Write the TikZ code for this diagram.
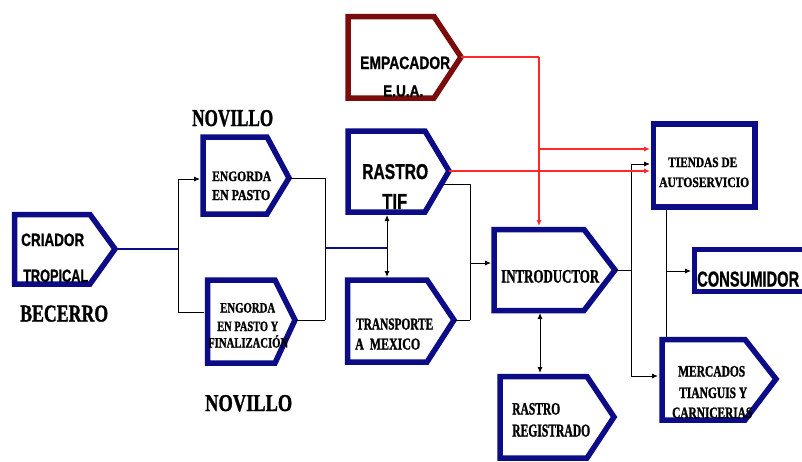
\documentclass[tikz,border=0pt]{standalone}
\usepackage{fontspec}
\setmainfont{Liberation Serif}[BoldFeatures={FakeBold=1.5}]
\setsansfont{Liberation Sans}[BoldFeatures={FakeBold=1.2}]
\usepackage{graphicx}
\usetikzlibrary{arrows.meta}
\definecolor{navy}{RGB}{12,12,135}
\definecolor{maroon}{RGB}{122,12,12}
\definecolor{redline}{RGB}{255,40,40}
\newcommand{\fitt}[3]{\resizebox{#1pt}{#2pt}{#3}}
\newcommand{\pentbox}[8]{%
  \draw[boxline,draw=#2] (#3,#4) -- (#6,#4) -- (#7,#8) -- (#6,#5) -- (#3,#5) -- cycle;
  \coordinate (#1-tip) at (#7,#8);
}
\tikzset{
  boxline/.style={line width=5.5pt, line join=miter},
  conn/.style={line width=0.9pt, draw=black},
  bconn/.style={line width=1.1pt, draw=navy},
  rconn/.style={line width=1.1pt, draw=redline},
  arrowend/.style={-{Latex[length=6pt,width=5pt]}},
  arrowboth/.style={{Latex[length=6pt,width=5pt]}-{Latex[length=6pt,width=5pt]}},
  lbl/.style={inner sep=0pt, anchor=base west, font=\bfseries},
  slbl/.style={inner sep=0pt, anchor=base west, font=\sffamily\bfseries},
}
\begin{document}
\begin{tikzpicture}[x=1pt,y=-1pt]
\useasboundingbox (0,0) rectangle (802,461);
\fill[white] (0,0) rectangle (802,461);

% ---------- coordinates ----------
\coordinate (j1) at (178,249);
\coordinate (j1t) at (178,179);
\coordinate (j1b) at (178,312);
\coordinate (eng1-in) at (200,179);
\coordinate (eng2-in) at (204,312);
\coordinate (j2t) at (325,178);
\coordinate (j2b) at (325,320);
\coordinate (j2m) at (325,248);
\coordinate (dbl) at (387,248);
\coordinate (ras-s) at (387,215);
\coordinate (tra-n) at (387,277);
\coordinate (ras-out) at (443,184);
\coordinate (j3t) at (470,184);
\coordinate (j3b) at (470,320);
\coordinate (j3m) at (470,263);
\coordinate (int-in) at (491,263);
\coordinate (j4) at (539,57);
\coordinate (j4m) at (539,149);
\coordinate (int-n) at (539,226);
\coordinate (tie-in1) at (650,149);
\coordinate (tie-in2) at (650,164);
\coordinate (tie-in3) at (650,171);
\coordinate (j5m) at (631,270);
\coordinate (j5t) at (631,164);
\coordinate (j5b) at (631,376);
\coordinate (mer-in) at (658,376);
\coordinate (tie-s) at (666,210);
\coordinate (mer-n) at (666,337);
\coordinate (j6) at (666,271);
\coordinate (con-in) at (691,271);
\coordinate (int-s) at (540,313);
\coordinate (reg-n) at (540,373);

% ---------- connectors ----------
\draw[conn] (j1t) -- (j1b);
\draw[conn,arrowend] (j1t) -- (eng1-in);
\draw[conn] (j1b) -- (eng2-in);
\draw[conn] (j2t) -- (j2b);
\draw[bconn] (j2m) -- (dbl);
\draw[conn,arrowboth] (ras-s) -- (tra-n);
\draw[conn] (ras-out) -- (j3t) -- (j3b);
\draw[conn,arrowend] (j3m) -- (int-in);
\draw[conn] (j5t) -- (j5b);
\draw[conn,arrowend] (j5t) -- (tie-in2);
\draw[conn,arrowend] (j5b) -- (mer-in);
\draw[conn] (tie-s) -- (mer-n);
\draw[conn,arrowend] (j6) -- (con-in);
\draw[conn,arrowboth] (int-s) -- (reg-n);
\draw[rconn] (j4) -- (j4m);
\draw[rconn,arrowend] (j4m) -- (int-n);
\draw[rconn,arrowend] (j4m) -- (tie-in1);

% ---------- boxes ----------
\pentbox{cri}{navy}{14.5}{214.5}{284}{90}{115}{249}
\pentbox{eng1}{navy}{203}{137}{214}{267}{289}{178}
\pentbox{eng2}{navy}{207.5}{280}{363}{275}{295}{320}
\pentbox{ras}{navy}{348}{131}{212}{425}{449}{171}
\pentbox{emp}{maroon}{348}{16.5}{98}{434}{461}{57}
\pentbox{tra}{navy}{347.5}{280}{362}{427}{454}{320}
\pentbox{int}{navy}{494}{229.5}{310.5}{584}{615}{270}
\pentbox{reg}{navy}{500}{376.5}{458}{587}{614}{417}
\pentbox{mer}{navy}{662}{339.5}{420}{745}{776}{379}
\draw[boxline,draw=navy] (653.5,124) rectangle (755,207);
\draw[boxline,draw=navy] (806,249.5) -- (694.5,249.5) -- (694.5,291.5) -- (806,291.5);

% connectors attached to box tips
\draw[bconn] (cri-tip) -- (j1);
\draw[conn] (eng1-tip) -- (j2t);
\draw[conn] (eng2-tip) -- (j2b);
\draw[conn] (tra-tip) -- (j3b);
\draw[rconn] (emp-tip) -- (j4);
\draw[rconn,arrowend] (ras-tip) -- (tie-in3);
\draw[conn] (int-tip) -- (j5m);

% ---------- labels ----------
\node[slbl] (t-cri1) at (21,246) {\fitt{63}{12.5}{CRIADOR}};
\node[slbl] (t-cri2) at (23,282) {\fitt{65}{12.5}{TROPICAL}};
\node[lbl] (t-bec) at (20,321.5) {\fitt{88}{16}{BECERRO}};
\node[lbl] (t-nov1) at (192,126) {\fitt{81}{16}{NOVILLO}};
\node[lbl] (t-nov2) at (205,411) {\fitt{87}{16}{NOVILLO}};
\node[lbl] (t-eng1a) at (212,181) {\fitt{59}{9.5}{ENGORDA}};
\node[lbl] (t-eng1b) at (212,200) {\fitt{58}{10}{EN PASTO}};
\node[lbl] (t-eng2a) at (220,312.5) {\fitt{55}{9.5}{ENGORDA}};
\node[lbl] (t-eng2b) at (217,331) {\fitt{61}{9.5}{EN PASTO Y}};
\node[lbl] (t-eng2c) at (208,347.5) {\fitt{80}{9.5}{FINALIZACI\raisebox{0pt}[\fontcharht\font`\O]{Ó}N}};
\node[slbl] (t-ras1) at (362,179) {\fitt{66}{15}{RASTRO}};
\node[slbl] (t-ras2) at (382,209) {\fitt{25}{15}{TIF}};
\node[slbl] (t-emp1) at (360,69) {\fitt{90}{12.5}{EMPACADOR}};
\node[slbl] (t-emp2) at (383,96.5) {\fitt{40}{11}{E.U.A.}};
\node[lbl] (t-tra1) at (356,329.5) {\fitt{77}{11}{TRANSPORTE}};
\node[lbl] (t-tra2) at (355,349.5) {\fitt{65}{11}{A\ \ MEXICO}};
\node[lbl] (t-int) at (501,282.5) {\fitt{98}{12.5}{INTRODUCTOR}};
\node[lbl] (t-reg1) at (512,414.5) {\fitt{48}{11.5}{RASTRO}};
\node[lbl] (t-reg2) at (512,436.5) {\fitt{78}{12}{REGISTRADO}};
\node[lbl] (t-tie1) at (668,167) {\fitt{69}{9.5}{TIENDAS DE}};
\node[lbl] (t-tie2) at (659,187) {\fitt{90}{9.5}{AUTOSERVICIO}};
\node[slbl] (t-con) at (697,286.5) {\fitt{102}{15}{CONSUMIDOR}};
\node[lbl] (t-mer1) at (678,376.5) {\fitt{67}{10.5}{MERCADOS}};
\node[lbl] (t-mer2) at (679,398) {\fitt{68}{10.5}{TIANGUIS Y}};
\node[lbl] (t-mer3) at (672,418) {\fitt{80}{10.5}{CARNICERIAS}};
\end{tikzpicture}
\end{document}
